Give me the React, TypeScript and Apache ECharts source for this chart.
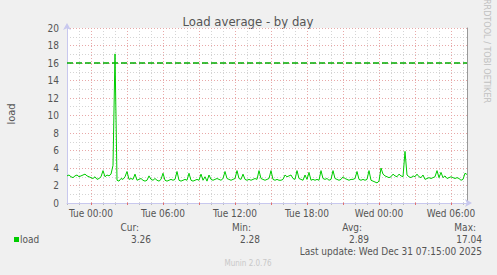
import React, { useEffect, useRef } from 'react';
import * as echarts from 'echarts';

// time axis: Mon 22:00 start, 10-minute samples
const START_MIN = 22 * 60;
const STEP_MIN = 10;
const DAY_NAMES = ['Mon', 'Tue', 'Wed'];

const load = [
  3.1, 3.2, 3.0, 2.9, 3.1, 3.2, 3.0, 3.1, 3.2, 3.3, 3.1, 3.0,
  2.9, 2.8, 3.0, 2.7, 2.8, 3.0, 3.7, 3.0, 3.2, 3.1, 3.3, 4.3,
  17.04,
  2.6, 2.5, 2.8, 2.7, 3.0, 3.6, 2.7, 2.8, 2.7, 3.3, 2.6,
  2.7, 2.8, 2.6, 2.5, 2.6, 3.1, 2.7, 2.6, 2.8, 2.6, 2.5, 2.7,
  3.4, 2.6, 2.5, 2.6, 2.7, 2.6, 2.7, 3.6, 2.6, 2.5, 2.6, 2.7,
  2.6, 3.4, 2.6, 2.5, 2.6, 2.7, 2.6, 3.3, 2.6, 3.0, 2.5, 3.2,
  2.7, 2.6, 2.7, 2.8, 2.7, 2.6, 2.8, 3.6, 2.8, 2.7, 2.6, 2.7,
  2.8, 3.7, 2.8, 2.7, 3.3, 2.7, 2.6, 2.7, 2.6, 2.7, 2.8, 2.7,
  3.7, 2.8, 2.7, 2.6, 2.7, 2.8, 3.7, 2.7, 2.6, 2.7, 2.6, 2.6,
  2.7, 3.2, 3.0, 3.1, 3.2, 2.8, 2.7, 3.7, 2.8, 2.7, 2.6, 3.2,
  2.7, 3.5, 2.6, 2.7, 2.6, 2.7, 2.6, 3.7, 2.8, 2.7, 2.8, 2.6,
  2.7, 3.7, 2.8, 2.7, 2.6, 2.7, 3.0, 2.8, 2.7, 2.6, 2.7, 2.7,
  2.8, 3.6, 2.7, 2.6, 2.7, 2.6, 2.7, 3.7, 2.6, 2.5, 2.4, 2.3,
  2.5, 4.0, 3.3, 3.1, 3.0, 2.9, 3.0, 3.3, 3.1, 3.0, 3.3, 3.1,
  3.0, 5.9, 3.2, 3.0, 2.9, 3.1, 3.0, 3.3, 3.0, 2.9, 3.2, 2.7,
  2.8, 2.9, 2.8, 2.9, 3.0, 3.7, 2.9, 3.5, 2.9, 3.1, 2.8, 2.9,
  3.0, 2.9, 2.8, 2.9, 2.8, 2.6, 2.7, 3.4, 3.26,
];

const WARNING = 16;
const TITLE = 'Load average - by day';
const Y_NAME = 'load';
const SERIES_NAME = 'load';
const statLabels = ['Cur:', 'Min:', 'Avg:', 'Max:'];
const statValues = ['3.26', '2.28', '2.89', '17.04'];
const LAST_UPDATE = 'Last update: Wed Dec 31 07:15:00 2025';
const FOOTER = 'Munin 2.0.76';
const SIDE_TEXT = 'RRDTOOL / TOBI OETIKER';

const minuteOf = (i: number) => START_MIN + i * STEP_MIN;
const pad = (n: number) => (n < 10 ? '0' + n : '' + n);
const times = load.map((_, i) => {
  const t = minuteOf(i);
  const d = Math.floor(t / 1440);
  const m = t % 1440;
  return `${DAY_NAMES[d]} ${pad(Math.floor(m / 60))}:${pad(m % 60)}`;
});

const isHour = (i: number) => minuteOf(i) % 60 === 0;
const is3h = (i: number) => minuteOf(i) % 180 === 0;
const is6h = (i: number) => minuteOf(i) % 360 === 0;

const FONT = '"DejaVu Sans Condensed", "DejaVu Sans", sans-serif';
const TXT = '#555';
const AXIS = '#c8c8ee';
const MAJOR = '#e8a8a8';
const MINOR = '#d4d4d4';
const GREEN = '#00cc00';
const WARN_GREEN = '#00aa00';

export default function App() {
  const ref = useRef<HTMLDivElement>(null);
  useEffect(() => {
    document.body.style.margin = '0';
    const chart = echarts.init(ref.current!, null, { renderer: 'svg' });
    const valueX = [139, 251, 362, 476];
    const valueX2 = [151, 260, 369, 482];
    chart.setOption({
      animation: false,
      backgroundColor: '#f0f0f0',
      textStyle: { fontFamily: FONT },
      grid: {
        left: 67, top: 28, width: 400, height: 175,
        show: true, backgroundColor: '#ffffff', borderWidth: 0,
      },
      xAxis: [
        {
          type: 'category', data: times, boundaryGap: false,
          axisLine: {
            show: true, lineStyle: { color: AXIS, width: 1 },
            symbol: ['none', 'arrow'], symbolSize: [6, 7], symbolOffset: [0, 5],
          },
          axisTick: { show: true, interval: (i: number) => is3h(i), length: 2, lineStyle: { color: '#e07070' } },
          axisLabel: {
            interval: (i: number) => is6h(i), color: TXT, fontSize: 10, margin: 5, fontFamily: FONT,
          },
          splitLine: { show: true, interval: (i: number) => is3h(i), lineStyle: { color: MAJOR, type: [1, 2], width: 1 } },
          z: 3,
        },
        {
          type: 'category', data: times, boundaryGap: false, position: 'bottom',
          axisLine: { show: false },
          axisTick: { show: true, interval: (i: number) => isHour(i) && !is3h(i), length: 2, lineStyle: { color: '#bbb' } },
          axisLabel: { show: false },
          splitLine: { show: true, interval: (i: number) => isHour(i) && !is3h(i), lineStyle: { color: MINOR, type: [1, 2], width: 1 } },
          z: 2,
        },
      ],
      yAxis: [
        {
          type: 'value', min: 0, max: 20, interval: 2, position: 'left',
          axisLine: {
            show: true, lineStyle: { color: AXIS, width: 1 },
            symbol: ['none', 'arrow'], symbolSize: [6, 7], symbolOffset: [0, 5],
          },
          axisTick: { show: false },
          axisLabel: { color: TXT, fontSize: 10, margin: 8, fontFamily: FONT },
          splitLine: { show: true, lineStyle: { color: MAJOR, type: [1, 2], width: 1 } },
          minorTick: { show: false, splitNumber: 2 },
          minorSplitLine: { show: true, lineStyle: { color: MINOR, type: [1, 2], width: 1 } },
          z: 3,
        },
        {
          type: 'value', min: 0, max: 20, interval: 2, position: 'right',
          axisLine: { show: true, lineStyle: { color: '#999', width: 1 } },
          axisTick: { show: false }, axisLabel: { show: false }, splitLine: { show: false },
        },
      ],
      series: [
        {
          name: SERIES_NAME, type: 'line', data: load, xAxisIndex: 0, yAxisIndex: 0,
          symbol: 'none', lineStyle: { color: GREEN, width: 1 }, itemStyle: { color: GREEN },
          color: GREEN,
          z: 5,
          markLine: {
            silent: true, symbol: ['none', 'none'], label: { show: false },
            lineStyle: { color: WARN_GREEN, type: 'dashed', dashOffset: 0, width: 1.5, opacity: 1 },
            emphasis: { disabled: true },
            data: [{ yAxis: WARNING }],
          },
        },
      ],
      graphic: [
        { type: 'text', x: 248, y: 21, style: { text: TITLE, fill: TXT, fontSize: 13, fontFamily: FONT, textAlign: 'center', textVerticalAlign: 'middle' } },
        { type: 'text', x: 11, y: 114, rotation: Math.PI / 2, style: { text: Y_NAME, fill: TXT, fontSize: 11, fontFamily: FONT, textAlign: 'center', textVerticalAlign: 'middle' } },
        { type: 'text', x: 487, y: 51, rotation: -Math.PI / 2, style: { text: SIDE_TEXT, fill: '#c0c0c0', fontSize: 9, fontFamily: FONT, textAlign: 'center', textVerticalAlign: 'middle' } },
        { type: 'rect', shape: { x: 14, y: 237, width: 5, height: 5 }, style: { fill: GREEN } },
        { type: 'text', x: 20, y: 239.5, style: { text: SERIES_NAME, fill: TXT, fontSize: 10, fontFamily: FONT, textAlign: 'left', textVerticalAlign: 'middle' } },
        ...statLabels.map((s, k) => ({ type: 'text', x: valueX[k], y: 227, style: { text: s, fill: TXT, fontSize: 10, fontFamily: FONT, textAlign: 'right', textVerticalAlign: 'middle' } })),
        ...statValues.map((s, k) => ({ type: 'text', x: valueX2[k], y: 239.5, style: { text: s, fill: TXT, fontSize: 10, fontFamily: FONT, textAlign: 'right', textVerticalAlign: 'middle' } })),
        { type: 'text', x: 482, y: 251, style: { text: LAST_UPDATE, fill: TXT, fontSize: 10, fontFamily: FONT, textAlign: 'right', textVerticalAlign: 'middle' } },
        { type: 'text', x: 248, y: 263, style: { text: FOOTER, fill: '#c8c8c8', fontSize: 8, fontFamily: FONT, textAlign: 'center', textVerticalAlign: 'middle' } },
      ],
    });
    return () => chart.dispose();
  }, []);
  return <div ref={ref} style={{ width: 497, height: 275 }} />;
}
